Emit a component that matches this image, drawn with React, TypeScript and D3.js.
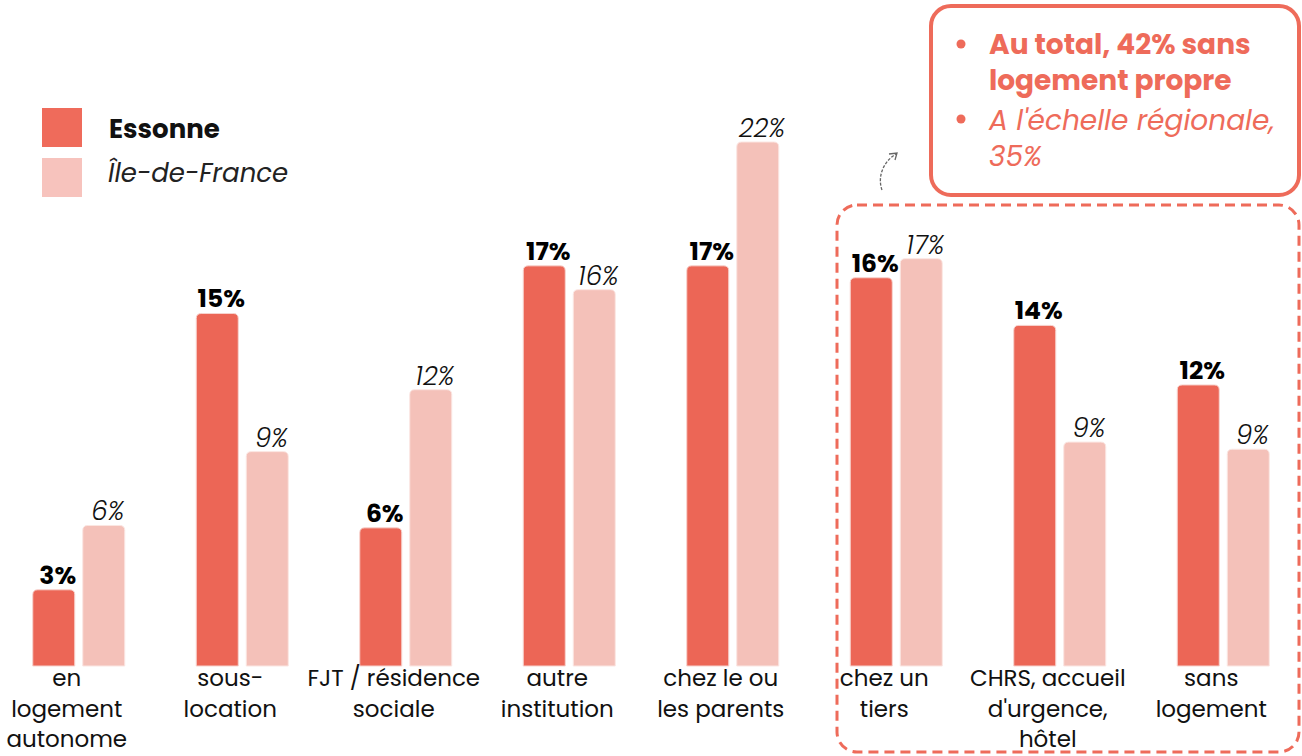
import React from "react";
import * as d3 from "d3";

const categories = [
  ["en", "logement", "autonome"],
  ["sous-", "location"],
  ["FJT / résidence", "sociale"],
  ["autre", "institution"],
  ["chez le ou", "les parents"],
  ["chez un", "tiers"],
  ["CHRS, accueil", "d'urgence,", "hôtel"],
  ["sans", "logement"],
];
const series = ["Essonne", "Île-de-France"];
const essonne = [3.2, 14.8, 5.8, 16.8, 16.8, 16.3, 14.3, 11.8];
const idf = [5.9, 9.0, 11.6, 15.8, 22.0, 17.1, 9.4, 9.1];
const noteLines = [
  { lines: ["Au total, 42% sans", "logement propre"], bold: true },
  { lines: ["A l'échelle régionale,", "35%"], bold: false },
];

const W = 1302;
const H = 756;
const FONT = "Poppins, 'Open Sans', sans-serif";
const C_ESS = "#EC6656";
const C_IDF = "#F4C1B9";
const C_ACC = "#EE6B5A";

function topRounded(x: number, y: number, w: number, h: number, r: number) {
  const rr = Math.min(r, h / 2, w / 2);
  return `M${x},${y + h}V${y + rr}Q${x},${y} ${x + rr},${y}H${x + w - rr}Q${x + w},${y} ${x + w},${y + rr}V${y + h}Z`;
}

export default function App() {
  const ids = categories.map((_, i) => String(i));
  const x0 = d3.scaleBand<string>().domain(ids).range([-3, 1305]).padding(0);
  const x1 = d3
    .scaleBand<string>()
    .domain(series)
    .range([0, 92])
    .paddingInner(0.16);
  const y = d3.scaleLinear().domain([0, 22]).range([666, 142]);
  const innerOffset = (x0.bandwidth() - 92) / 2;
  const data = [essonne, idf];

  return (
    <svg
      width={W}
      height={H}
      style={{ position: "absolute", left: 0, top: 0, background: "#fff" }}
      fontFamily={FONT}
    >
      {/* dashed highlight box */}
      <rect
        x={837}
        y={205}
        width={462}
        height={547}
        rx={20}
        fill="none"
        stroke={C_ACC}
        strokeWidth={3}
        strokeDasharray="10 6"
      />
      {/* annotation box */}
      <rect
        x={931}
        y={6}
        width={368}
        height={189}
        rx={20}
        fill="none"
        stroke={C_ACC}
        strokeWidth={4}
      />
      {noteLines.map((b, bi) => (
        <g key={bi}>
          <circle cx={961} cy={bi === 0 ? 44 : 119} r={4.5} fill={C_ACC} />
          {b.lines.map((l, li) => (
            <text
              key={li}
              x={989}
              y={(bi === 0 ? 54 : 130) + li * 36}
              fill={C_ACC}
              fontSize={28}
              fontWeight={b.bold ? 700 : 400}
              fontStyle={b.bold ? "normal" : "italic"}
            >
              {l}
            </text>
          ))}
        </g>
      ))}
      {/* small arrow */}
      <g stroke="#666" fill="none" strokeWidth={1.3}>
        <path d="M882,190 C877,176 884,161 896,154" strokeDasharray="3 1.5" />
        <path d="M889,154 L897,153 L895,160" />
      </g>

      {/* legend */}
      <rect x={42} y={108} width={40} height={39} fill="#EF6B5B" />
      <rect x={42} y={158} width={40} height={39} fill="#F7C3BD" />
      <text x={109} y={138} fontSize={26} fontWeight={700} fill="#111">
        {series[0]}
      </text>
      <text x={108} y={182} fontSize={26} fontStyle="italic" fill="#222">
        {series[1]}
      </text>

      {/* bars */}
      {categories.map((cat, i) => {
        const gx = (x0(String(i)) as number) + innerOffset;
        const cx = (x0(String(i)) as number) + x0.bandwidth() / 2 - 12;
        return (
          <g key={i}>
            {series.map((s, si) => {
              const v = data[si][i];
              const bx = gx + (x1(s) as number);
              const bw = x1.bandwidth();
              const top = y(v);
              return (
                <g key={s}>
                  <path
                    d={topRounded(bx, top, bw, y(0) - top, 5)}
                    fill={si === 0 ? C_ESS : C_IDF}
                    stroke={si === 0 ? "#f7d3ce" : "#fbe6e2"}
                    strokeWidth={1}
                  />
                  <text
                    x={bx + bw / 2 + 4}
                    y={top - (si === 0 ? 6 : 5)}
                    textAnchor="middle"
                    fontSize={si === 0 ? 25 : 26}
                    fontWeight={si === 0 ? 700 : 300}
                    fontStyle={si === 0 ? "normal" : "italic"}
                    fill={si === 0 ? "#000" : "#111"}
                  >
                    {`${Math.round(v)}%`}
                  </text>
                </g>
              );
            })}
            <text
              x={cx}
              y={686}
              textAnchor="middle"
              fontSize={23}
              fill="#111"
            >
              {cat.map((l, li) => (
                <tspan key={li} x={cx} dy={li === 0 ? 0 : 30.5}>
                  {l}
                </tspan>
              ))}
            </text>
          </g>
        );
      })}
    </svg>
  );
}
